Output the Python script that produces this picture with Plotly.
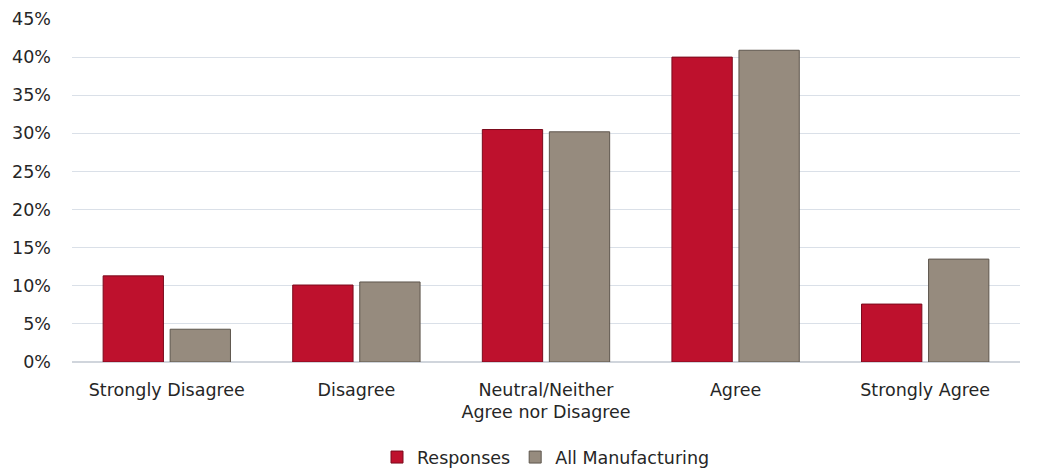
import plotly.graph_objects as go

categories = ["Strongly Disagree", "Disagree", "Neutral/Neither<br>Agree nor Disagree", "Agree", "Strongly Agree"]
responses = [0.113, 0.101, 0.305, 0.400, 0.076]
all_manufacturing = [0.043, 0.105, 0.302, 0.409, 0.135]
y_ticks = [0, 0.05, 0.10, 0.15, 0.20, 0.25, 0.30, 0.35, 0.40, 0.45]

fig = go.Figure()
fig.add_trace(go.Bar(
    name="Responses", x=categories, y=responses,
    marker=dict(color="#BE112D", line=dict(color="#7A0A1C", width=1)),
))
fig.add_trace(go.Bar(
    name="All Manufacturing", x=categories, y=all_manufacturing,
    marker=dict(color="#968B7E", line=dict(color="#5E564D", width=1)),
))

fig.update_layout(
    width=1037, height=470,
    margin=dict(l=72, r=17, t=19, b=108, autoexpand=False),
    paper_bgcolor="white", plot_bgcolor="white",
    barmode="group", bargap=0.293, bargroupgap=0.1,
    font=dict(family="DejaVu Sans", size=17.5, color="#262626"),
    legend=dict(orientation="h", x=0.5, xanchor="center", y=-0.225, yanchor="top",
                font=dict(size=17.5), itemwidth=30, traceorder="normal"),
    xaxis=dict(showgrid=False, showline=False, ticks="", automargin=False,
               ticklabelstandoff=15, tickfont=dict(size=17.5)),
    yaxis=dict(range=[0, 0.45], tickvals=y_ticks, tickformat=".0%", automargin=False,
               gridcolor="#DAE0E8", gridwidth=1, zeroline=True, zerolinecolor="#D0D5DC",
               showline=False, ticks="", ticklabelstandoff=20,
               tickfont=dict(size=17.5)),
)

fig.write_html("out.html")
